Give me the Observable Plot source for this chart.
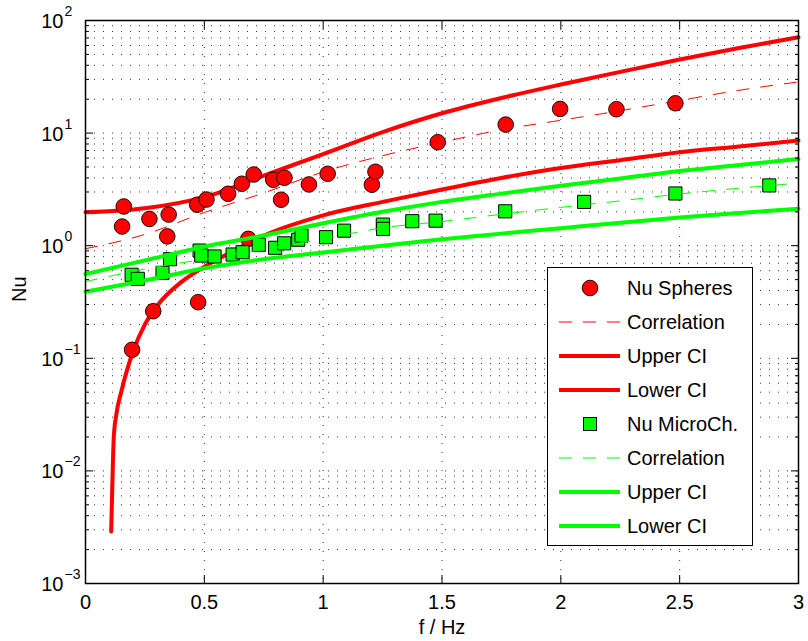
<!DOCTYPE html>
<html>
<head>
<meta charset="utf-8">
<script src="https://cdn.jsdelivr.net/npm/d3@7"></script>
<script src="https://cdn.jsdelivr.net/npm/@observablehq/plot@0.6"></script>
<style>
  body { margin: 0; background: #fff; }
  #wrap { position: relative; width: 808px; height: 641px; font-family: "Liberation Sans", Arial, sans-serif; }
  #legend { position: absolute; left: 547px; top: 267px; }
</style>
</head>
<body>
<div id="wrap"></div>
<script>
// ---- Data: Nu Spheres (markers) ----
const sphF  = [0.154, 0.161, 0.196, 0.269, 0.285, 0.344, 0.350, 0.470, 0.474, 0.509, 0.600, 0.658, 0.685, 0.708, 0.790, 0.823, 0.837, 0.940, 1.019, 1.205, 1.220, 1.482, 1.768, 1.997, 2.234, 2.482];
const sphNu = [1.48, 2.23, 0.119, 1.73, 0.262, 1.21, 1.89, 2.31, 0.315, 2.57, 2.89, 3.55, 1.15, 4.29, 3.85, 2.56, 4.01, 3.50, 4.35, 3.48, 4.54, 8.30, 11.9, 16.4, 16.3, 18.4];

// ---- Data: Nu MicroCh. (markers) ----
const micF  = [0.194, 0.220, 0.324, 0.356, 0.480, 0.487, 0.543, 0.619, 0.661, 0.729, 0.798, 0.836, 0.895, 0.909, 1.012, 1.088, 1.251, 1.252, 1.375, 1.473, 1.766, 2.098, 2.482, 2.877];
const micNu = [0.552, 0.508, 0.574, 0.759, 0.906, 0.818, 0.802, 0.835, 0.875, 1.02, 0.958, 1.05, 1.13, 1.23, 1.19, 1.36, 1.54, 1.41, 1.65, 1.67, 2.02, 2.45, 2.91, 3.43];

// ---- Curves ----
const fitF      = [0, 0.25, 0.5, 0.75, 1, 1.25, 1.5, 1.75, 2, 2.25, 2.5, 2.75, 3];
const sphCorr   = [0.94, 1.26, 1.97, 2.94, 4.52, 6.3, 8.3, 10.7, 13.0, 15.8, 19.5, 24, 28.5];
const sphUpper  = [1.98, 2.15, 2.7, 4.2, 6.5, 10.2, 15.0, 20.5, 27, 35, 45, 57, 71];
const sphLowF   = [0.108, 0.112, 0.119, 0.13, 0.15, 0.175, 0.2, 0.25, 0.3, 0.4, 0.5, 0.6, 0.75, 1, 1.25, 1.5, 1.75, 2, 2.25, 2.5, 2.75, 3];
const sphLower  = [0.0029, 0.0063, 0.020, 0.032, 0.050, 0.079, 0.115, 0.20, 0.29, 0.47, 0.65, 0.85, 1.23, 1.86, 2.45, 3.16, 4.0, 4.9, 5.75, 6.76, 7.6, 8.6];
const micCorr   = [0.48, 0.62, 0.76, 0.93, 1.15, 1.44, 1.64, 1.9, 2.19, 2.5, 2.88, 3.24, 3.59];
const micUpper  = [0.56, 0.74, 0.98, 1.23, 1.58, 2.0, 2.45, 2.9, 3.4, 3.95, 4.6, 5.2, 5.9];
const micLower  = [0.39, 0.49, 0.63, 0.76, 0.87, 1.0, 1.14, 1.28, 1.43, 1.6, 1.78, 1.95, 2.13];

// ---- Axes ----
const xTicks      = [0, 0.5, 1, 1.5, 2, 2.5, 3];
const xTickLabels = ["0", "0.5", "1", "1.5", "2", "2.5", "3"];
const yMajor      = [1e-3, 1e-2, 1e-1, 1, 10, 100];
const yExp        = ["\u22123", "\u22122", "\u22121", "0", "1", "2"];
const yMinor = [];
for (let e = -3; e < 2; e++) for (let m = 2; m <= 9; m++) yMinor.push(m * Math.pow(10, e));
const yGrid = yMajor.slice(1, -1).concat(yMinor);
const xGrid = xTicks.slice(1, -1);

// ---- Legend ----
const legendLabels = ["Nu Spheres", "Correlation", "Upper CI", "Lower CI", "Nu MicroCh.", "Correlation", "Upper CI", "Lower CI"];
const legendKinds  = ["circle", "dash", "solid", "solid", "square", "dash", "solid", "solid"];
const legendColors = ["#ff0000", "#ff0000", "#ff0000", "#ff0000", "#00ff00", "#00ff00", "#00ff00", "#00ff00"];

const RED = "#ff0000", GREEN = "#00ff00";
const rows = (xs, ys) => xs.map((f, i) => ({f, v: ys[i]}));

const tickShapeOpts = {stroke: "black", strokeWidth: 1, tickFormat: () => "", label: null};

const chart = Plot.plot({
  width: 808,
  height: 641,
  marginLeft: 85,
  marginRight: 10,
  marginTop: 20,
  marginBottom: 58,
  x: {domain: [0, 3]},
  y: {type: "log", domain: [1e-3, 1e2]},
  style: {fontFamily: "'Liberation Sans', Arial, sans-serif", background: "white", color: "black"},
  marks: [
    Plot.gridY(yGrid, {stroke: "#000", strokeOpacity: 0.8, strokeWidth: 1, strokeDasharray: "1,8"}),
    Plot.gridX(xGrid, {stroke: "#000", strokeOpacity: 0.8, strokeWidth: 1, strokeDasharray: "1,8"}),

    Plot.line(rows(fitF, sphCorr),   {x: "f", y: "v", stroke: RED, strokeWidth: 1, strokeDasharray: "12,12", curve: "monotone-x"}),
    Plot.line(rows(fitF, sphUpper),  {x: "f", y: "v", stroke: RED, strokeWidth: 4, curve: "monotone-x"}),
    Plot.line(rows(sphLowF, sphLower), {x: "f", y: "v", stroke: RED, strokeWidth: 4, curve: "monotone-x"}),

    Plot.dot(rows(sphF, sphNu), {x: "f", y: "v", r: 7.8, fill: RED, stroke: "black", strokeWidth: 0.9}),

    Plot.dot(rows(micF, micNu), {x: "f", y: "v", symbol: "square", r: 7.4, fill: GREEN, stroke: "black", strokeWidth: 1}),

    Plot.line(rows(fitF, micCorr),  {x: "f", y: "v", stroke: GREEN, strokeWidth: 1, strokeDasharray: "12,12", curve: "monotone-x"}),
    Plot.line(rows(fitF, micUpper), {x: "f", y: "v", stroke: GREEN, strokeWidth: 4, curve: "monotone-x"}),
    Plot.line(rows(fitF, micLower), {x: "f", y: "v", stroke: GREEN, strokeWidth: 4, curve: "monotone-x"}),

    Plot.frame({stroke: "black", strokeWidth: 1.5}),

    // inward ticks (MATLAB style), all four sides
    Plot.axisY(yMajor, {anchor: "left",  tickSize: -8, ...tickShapeOpts}),
    Plot.axisY(yMinor, {anchor: "left",  tickSize: -4, ...tickShapeOpts}),
    Plot.axisY(yMajor, {anchor: "right", tickSize: -8, ...tickShapeOpts}),
    Plot.axisY(yMinor, {anchor: "right", tickSize: -4, ...tickShapeOpts}),
    Plot.axisX(xTicks, {anchor: "bottom", tickSize: -8, ...tickShapeOpts}),
    Plot.axisX(xTicks, {anchor: "top",    tickSize: -8, ...tickShapeOpts}),

    // tick labels
    Plot.text(yMajor, {x: 0, y: d => d, text: () => "10", textAnchor: "end", dx: -22, dy: 1, fontSize: 20, fill: "black"}),
    Plot.text(yMajor, {x: 0, y: d => d, text: (d, i) => yExp[i], textAnchor: "start", dx: -21, dy: -9, fontSize: 14, fill: "black"}),
    Plot.text(xTicks, {x: d => d, y: 1e-3, text: (d, i) => xTickLabels[i], dy: 19, fontSize: 20, fill: "black"}),

    // axis titles
    Plot.text(["f / Hz"], {frameAnchor: "bottom", lineAnchor: "middle", text: d => d, dy: 44, fontSize: 20, fill: "black"}),
    Plot.text(["Nu"], {frameAnchor: "left", lineAnchor: "middle", text: d => d, rotate: -90, dx: -66, fontSize: 20, fill: "black"})
  ]
});

const wrap = document.getElementById("wrap");
wrap.appendChild(chart);

// ---- Legend overlay (inside the axes, like MATLAB) ----
const LW = 206, LH = 279;
const leg = d3.select(wrap).append("svg")
  .attr("id", "legend").attr("width", LW).attr("height", LH)
  .style("font-family", "'Liberation Sans', Arial, sans-serif");
leg.append("rect").attr("x", 0.5).attr("y", 0.5).attr("width", LW - 1).attr("height", LH - 1)
  .attr("fill", "white").attr("stroke", "black").attr("stroke-width", 1);
legendLabels.forEach((lab, i) => {
  const cy = 21 + i * 34;
  const g = leg.append("g");
  const k = legendKinds[i], c = legendColors[i];
  if (k === "circle") {
    g.append("circle").attr("cx", 43).attr("cy", cy).attr("r", 7.8).attr("fill", c).attr("stroke", "black").attr("stroke-width", 0.9);
  } else if (k === "square") {
    g.append("rect").attr("x", 43 - 6.5).attr("y", cy - 6.5).attr("width", 13).attr("height", 13).attr("fill", c).attr("stroke", "black").attr("stroke-width", 1);
  } else if (k === "dash") {
    g.append("line").attr("x1", 12).attr("x2", 73).attr("y1", cy).attr("y2", cy).attr("stroke", c).attr("stroke-width", 1).attr("stroke-dasharray", "13,11");
  } else {
    g.append("line").attr("x1", 12).attr("x2", 73).attr("y1", cy).attr("y2", cy).attr("stroke", c).attr("stroke-width", 4);
  }
  g.append("text").attr("x", 80).attr("y", cy).attr("dy", "0.36em").attr("font-size", 20).attr("fill", "black").text(lab);
});
</script>
</body>
</html>
